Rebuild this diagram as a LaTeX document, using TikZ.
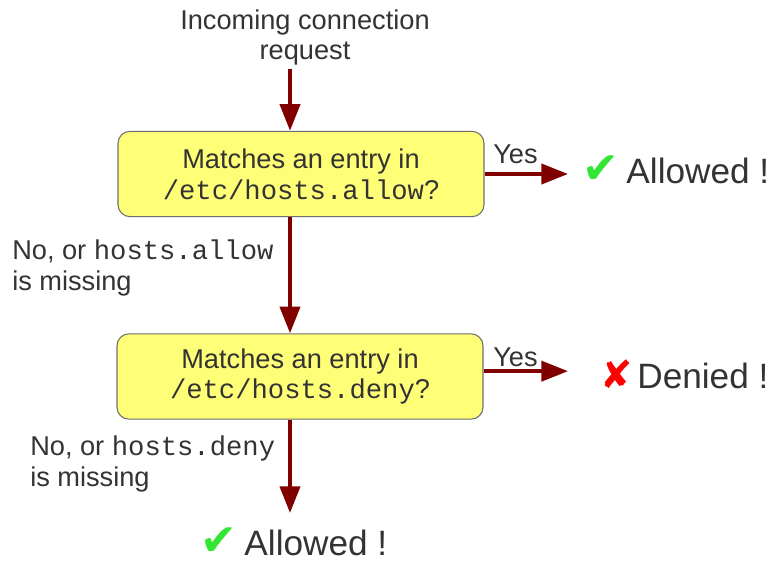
\documentclass[tikz,border=0pt]{standalone}
\usepackage{fontspec}
\setmainfont{Liberation Sans}
\setmonofont{Liberation Mono}
\newfontfamily\symfont{DejaVu Sans}
\usetikzlibrary{arrows.meta,positioning}

\definecolor{textgray}{RGB}{51,51,51}
\definecolor{boxfill}{RGB}{255,255,119}
\definecolor{boxline}{RGB}{110,110,110}
\definecolor{flowred}{RGB}{128,0,0}
\definecolor{okgreen}{RGB}{51,230,51}
\definecolor{nored}{RGB}{255,0,0}

\newcommand{\okmark}{{\symfont\fontsize{33}{33}\selectfont\textcolor{okgreen}{✔}}\hspace{5.5pt}}
\newcommand{\nomark}{{\symfont\fontsize{29}{29}\selectfont\textcolor{nored}{✘}}\hspace{3.5pt}}

\begin{document}
\begin{tikzpicture}[x=0.75pt, y=-0.75pt,
    txt/.style={text=textgray, font=\fontsize{20.4}{23}\selectfont, inner sep=0pt},
    result/.style={text=textgray, font=\fontsize{26.4}{30}\selectfont, inner sep=0pt, text depth=0pt},
    question/.style={draw=boxline, fill=boxfill, rounded corners=9pt, thick,
        minimum width=274.5pt, minimum height=64pt, align=center,
        text=textgray, font=\fontsize{20.4}{23}\selectfont},
    flow/.style={draw=flowred, line width=3pt, -{Triangle[length=20pt, width=15pt]}}]
    \useasboundingbox (0,0) rectangle (773,560);
    \coordinate (spine) at (290,0);
    \coordinate (yestip) at (568,0);

    % Incoming request
    \node[txt, align=center, anchor=base] (request) at (305,60) {Incoming connection\\request};

    % Question boxes
    \node[question] (allowq) at (301,174) {Matches an entry in\\\texttt{/etc/hosts.allow}?};
    \node[question] (denyq) at (300,376.5) {Matches an entry in\\\texttt{/etc/hosts.deny}?};

    % Outcomes
    \node[result, anchor=base west] (allowed1) at (582,183) {\okmark Allowed !};
    \node[result, anchor=base west] (denied) at (600,388) {\nomark Denied !};
    \node[result, anchor=base west] (allowed2) at (200,555) {\okmark Allowed !};

    % Edge labels
    \node[txt, anchor=base west] (yes1) at (493,163) {Yes};
    \node[txt, anchor=base west] (yes2) at (493,366) {Yes};
    \node[txt, align=left, anchor=base west] (noallow) at (12,290) {No, or \texttt{hosts.allow}\\is missing};
    \node[txt, align=left, anchor=base west] (nodeny) at (30,486) {No, or \texttt{hosts.deny}\\is missing};

    % Flow
    \draw[flow, shorten <=2pt] (request.south -| spine) -- (allowq.north -| spine);
    \draw[flow] (allowq.south -| spine) -- (denyq.north -| spine);
    \draw[flow, shorten >=10.5pt] (denyq.south -| spine) -- (allowed2.north -| spine);
    \draw[flow] (allowq.east) -- (allowq.east -| yestip);
    \draw[flow] ([yshift=4pt]denyq.east) -- ([yshift=4pt]denyq.east -| yestip);
\end{tikzpicture}
\end{document}
